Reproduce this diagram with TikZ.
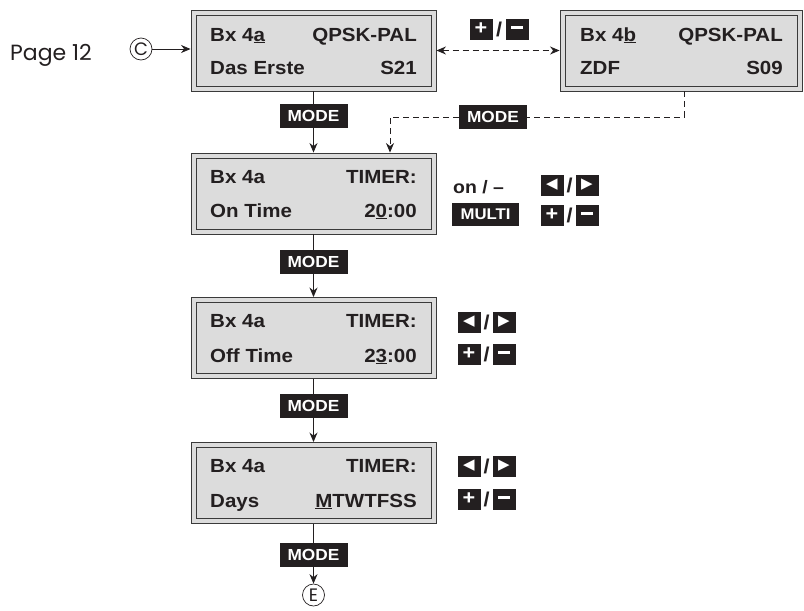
\documentclass[tikz,border=0pt]{standalone}
\usepackage{fontspec}
\setmainfont{Liberation Sans}
\newfontfamily\lcd[FakeStretch=1.08]{Liberation Sans}
\newfontfamily\pagefont{Poppins}
\newfontfamily\symfont{DejaVu Sans}
\usetikzlibrary{arrows.meta}
\definecolor{ink}{HTML}{231F20}
\definecolor{lcdgray}{HTML}{DCDCDC}
\definecolor{framec}{HTML}{3A3A3A}
\newcommand\ulc[1]{\underline{#1}}
\newcommand\keyminus{\rule[0.25ex]{12pt}{2.6pt}}
\begin{document}
\begin{tikzpicture}[x=1pt,y=-1pt,
  lcdbox/.style={draw=framec, line width=0.9pt, fill=lcdgray,
    minimum width=245pt, minimum height=81pt, inner sep=0pt, outer sep=0.45pt},
  innerframe/.style={draw=framec, line width=0.9pt},
  lcdtxt/.style={font=\lcd\bfseries\fontsize{19}{19}\selectfont, text=ink, inner sep=0pt},
  modekey/.style={fill=ink, text=white, font=\lcd\bfseries\fontsize{16}{16}\selectfont,
    minimum width=68pt, minimum height=24pt, inner sep=0pt},
  keybox/.style={fill=ink, text=white, minimum width=23pt, minimum height=21pt, inner sep=0pt,
    font=\lcd\bfseries\fontsize{20}{20}\selectfont},
  arrowkey/.style={keybox, font=\symfont\fontsize{15}{15}\selectfont},
  slashtxt/.style={text=ink, font=\lcd\bfseries\fontsize{20}{20}\selectfont, inner sep=0pt},
  conn/.style={draw=ink, line width=0.9pt},
  arr/.style={-{Stealth[length=9.5pt,width=8pt]}},
  dsh/.style={dash pattern=on 6pt off 4pt},
  circ/.style={circle, draw=ink, line width=0.7pt, minimum size=22pt, inner sep=0pt,
    font=\pagefont\fontsize{18}{18}\selectfont, text=ink}
]
\useasboundingbox (0,0) rectangle (804,611);

% LCD boxes
\node[lcdbox] (b1) at (313.5,50.5) {};
\node[lcdbox, minimum width=242pt] (b2) at (681,50.5) {};
\node[lcdbox] (b3) at (313.5,193.5) {};
\node[lcdbox] (b4) at (313.5,338) {};
\node[lcdbox] (b5) at (313.5,483) {};
\foreach \b in {b1,b2,b3,b4,b5}{
  \draw[innerframe] ([shift={(5.5,5.5)}]\b.north west) rectangle ([shift={(-5.5,-5.5)}]\b.south east);
}

% texts box 1
\node[lcdtxt, anchor=base west] (t1a) at (210,41) {Bx 4\ulc{a}};
\node[lcdtxt, anchor=base east] (t1b) at (417,41) {QPSK-PAL};
\node[lcdtxt, anchor=base west] (t1c) at (210,74) {Das Erste};
\node[lcdtxt, anchor=base east] (t1d) at (417,74) {S21};
% box 2
\node[lcdtxt, anchor=base west] (t2a) at (580,41) {Bx 4\ulc{b}};
\node[lcdtxt, anchor=base east] (t2b) at (783,41) {QPSK-PAL};
\node[lcdtxt, anchor=base west] (t2c) at (580,74) {ZDF};
\node[lcdtxt, anchor=base east] (t2d) at (783,74) {S09};
% box 3
\node[lcdtxt, anchor=base west] (t3a) at (210,183) {Bx 4a};
\node[lcdtxt, anchor=base east] (t3b) at (417,183) {TIMER:};
\node[lcdtxt, anchor=base west] (t3c) at (210,217) {On Time};
\node[lcdtxt, anchor=base east] (t3d) at (417,217) {2\ulc{0}:00};
% box 4
\node[lcdtxt, anchor=base west] (t4a) at (210,327) {Bx 4a};
\node[lcdtxt, anchor=base east] (t4b) at (417,327) {TIMER:};
\node[lcdtxt, anchor=base west] (t4c) at (210,362) {Off Time};
\node[lcdtxt, anchor=base east] (t4d) at (417,362) {2\ulc{3}:00};
% box 5
\node[lcdtxt, anchor=base west] (t5a) at (210,472) {Bx 4a};
\node[lcdtxt, anchor=base east] (t5b) at (417,472) {TIMER:};
\node[lcdtxt, anchor=base west] (t5c) at (210,507) {Days};
\node[lcdtxt, anchor=base east] (t5d) at (417,507) {\ulc{M}TWTFSS};

% page reference and circles
\node[anchor=base west, inner sep=0pt, text=ink, font=\pagefont\fontsize{22}{22}\selectfont] (pg) at (10,60) {Page 12};
\node[circ] (c) at (141,49) {C};
\node[circ] (e) at (313.5,595) {E};

% MODE keys
\node[modekey] (m1) at (313.5,116) {MODE};
\node[modekey] (m2) at (493,117) {MODE};
\node[modekey] (m3) at (313.5,262) {MODE};
\node[modekey] (m4) at (313.5,406) {MODE};
\node[modekey] (m5) at (313.5,555) {MODE};

% +/- top
\node[keybox] (tp) at (481,29) {+};
\node[slashtxt] (ts) at (499,29) {/};
\node[keybox] (tm) at (517,29) {\keyminus};

% box 3 keys
\node[anchor=base west, inner sep=0pt, text=ink, font=\lcd\bfseries\fontsize{18}{18}\selectfont] (on) at (453,193) {on / –};
\node[modekey, minimum width=67pt, minimum height=23pt, font=\lcd\bfseries\fontsize{15.5}{15.5}\selectfont] (multi) at (485.5,214) {MULTI};
\node[arrowkey] (k3l) at (552,185) {◀};
\node[slashtxt] (k3s1) at (569.5,185) {/};
\node[arrowkey] (k3r) at (587,185) {▶};
\node[keybox] (k3p) at (552,215) {+};
\node[slashtxt] (k3s2) at (569.5,215) {/};
\node[keybox] (k3m) at (587,215) {\keyminus};

% box 4 keys
\node[arrowkey] (k4l) at (469,322) {◀};
\node[slashtxt] (k4s1) at (486.5,322) {/};
\node[arrowkey] (k4r) at (504,322) {▶};
\node[keybox] (k4p) at (469,354) {+};
\node[slashtxt] (k4s2) at (486.5,354) {/};
\node[keybox] (k4m) at (504,354) {\keyminus};

% box 5 keys
\node[arrowkey] (k5l) at (469,466) {◀};
\node[slashtxt] (k5s1) at (486.5,466) {/};
\node[arrowkey] (k5r) at (504,466) {▶};
\node[keybox] (k5p) at (469,499) {+};
\node[slashtxt] (k5s2) at (486.5,499) {/};
\node[keybox] (k5m) at (504,499) {\keyminus};

% connectors
\draw[conn,arr] (c.east) -- (c -| b1.west);
\draw[conn] (b1.south) -- (m1.north);
\draw[conn,arr] (m1.south) -- (b3.north);
\draw[conn] (b3.south) -- (m3.north);
\draw[conn,arr] (m3.south) -- (b4.north);
\draw[conn] (b4.south) -- (m4.north);
\draw[conn,arr] (m4.south) -- (b5.north);
\draw[conn] (b5.south) -- (m5.north);
\draw[conn,arr] (m5.south) -- (e.north);

\draw[conn,dsh,{Stealth[length=9.5pt,width=8pt]}-{Stealth[length=9.5pt,width=8pt]}] (b1.east) -- (b2.west);
\coordinate (d1) at (684,117);
\coordinate (d2) at (390,117);
\draw[conn,dsh] (d1 |- b2.south) -- (d1) -- (m2.east);
\draw[conn,dsh,arr] (m2.west) -- (d2) -- (d2 |- b3.north);
\end{tikzpicture}
\end{document}
